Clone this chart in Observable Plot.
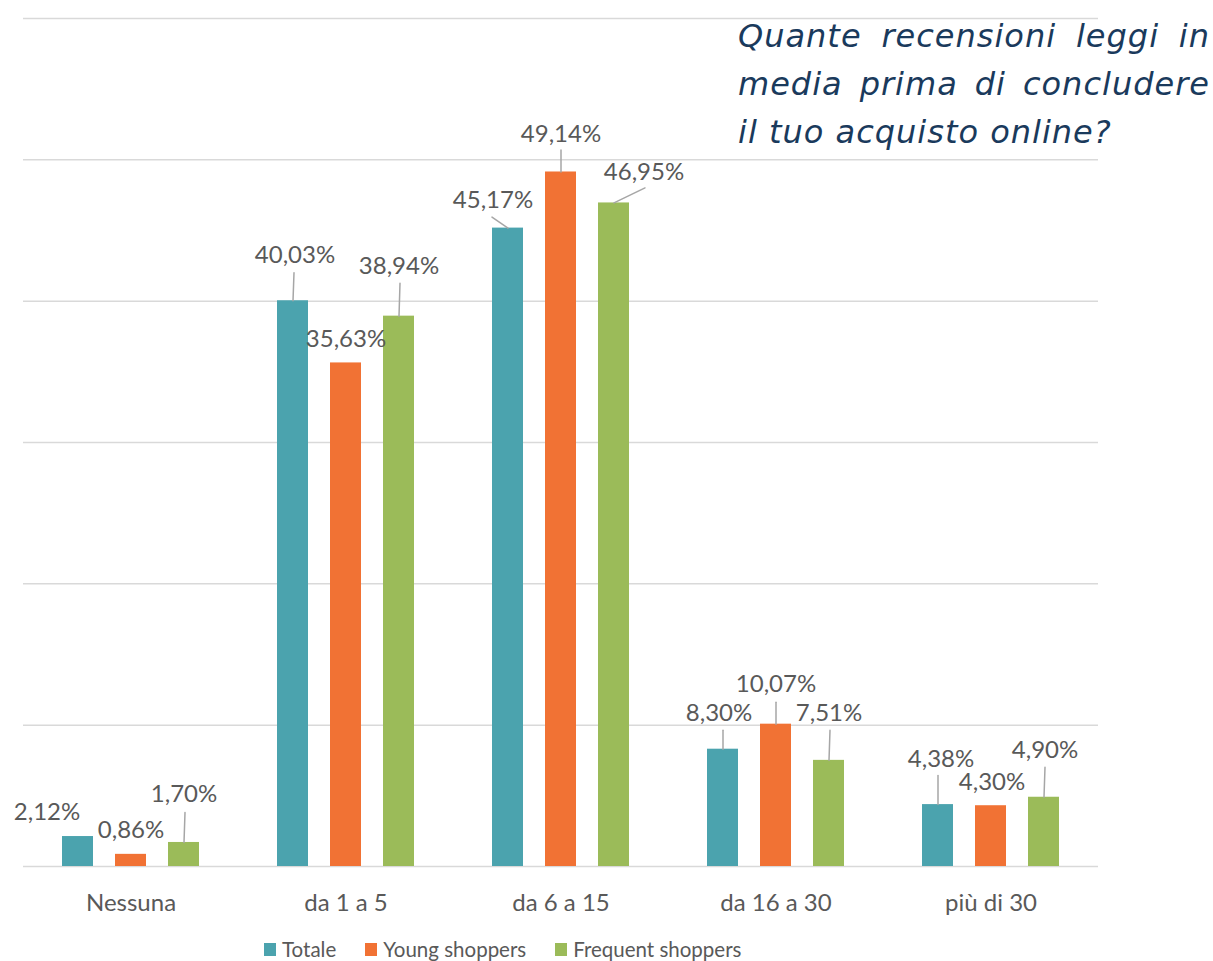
<!DOCTYPE html>
<html>
<head>
<meta charset="utf-8">
<script src="https://cdn.jsdelivr.net/npm/d3@7"></script>
<script src="https://cdn.jsdelivr.net/npm/@observablehq/plot@0.6"></script>
<style>
  body { margin: 0; background: #fff; }
  #wrap { position: relative; width: 1213px; height: 961px; overflow: hidden; background: #fff; }
  #chart { position: absolute; left: 0; top: 0; }
  #title { position: absolute; left: 738px; top: 12px; width: 472px; font-family: "DejaVu Sans"; font-style: italic; font-size: 32px; letter-spacing: 1px; line-height: 48px; color: #1a3a5c; }
  #title div { text-align: justify; text-align-last: justify; white-space: nowrap; }
  #title div.last { text-align: left; text-align-last: left; }
  #legend { position: absolute; left: 264px; top: 939px; height: 20px; display: flex; align-items: center; font-family: Lato; font-size: 20.5px; color: #595959; }
  .item { display: flex; align-items: center; margin-right: 29px; }
  .sw { width: 12px; height: 13px; margin-right: 6px; }
</style>
</head>
<body>
<div id="wrap">
  <div id="chart"></div>
  <div id="title"></div>
  <div id="legend"></div>
</div>
<script>
const categories = ["Nessuna", "da 1 a 5", "da 6 a 15", "da 16 a 30", "più di 30"];
const series = ["Totale", "Young shoppers", "Frequent shoppers"];
const totale = [2.12, 40.03, 45.17, 8.30, 4.38];
const young = [0.86, 35.63, 49.14, 10.07, 4.30];
const frequent = [1.70, 38.94, 46.95, 7.51, 4.90];
const yTicks = [0, 10, 20, 30, 40, 50, 60];
const titleLines = ["Quante recensioni leggi in", "media prima di concludere", "il tuo acquisto online?"];

// styling / layout (pixel nudges for data labels and leader lines)
const seriesColors = ["#4BA3AE", "#F17234", "#9BBB59"];
const labelOffsets = [
  [[-31, -24], [2, -45], [-15, -28], [-4, -36], [3, -45]],
  [[0, -24], [0, -24], [0, -38], [0, -40], [1, -23]],
  [[0, -48], [0, -50], [30, -31], [0, -47], [1, -47]]
];
const leaderOffsets = [
  [null, [1, -28], [-16, -11], [0, -19], [0, -29]],
  [null, null, [0, -22], [0, -22], null],
  [[1, -30], [1, -33], [31, -15], [1, -30], [1, -30]]
];

const valuesBySeries = [totale, young, frequent];
const data = [];
series.forEach((s, si) => categories.forEach((c, ci) => {
  const v = valuesBySeries[si][ci];
  data.push({category: c, series: s, value: v,
    label: v.toFixed(2).replace(".", ",") + "%",
    lab: labelOffsets[si][ci], lead: leaderOffsets[si][ci]});
}));
const leaders = data.filter(d => d.lead).map(d => ({...d,
  len: Math.hypot(d.lead[0], d.lead[1]),
  rot: Math.atan2(d.lead[0], -d.lead[1]) * 180 / Math.PI}));

const lineShape = {draw(ctx, l) { ctx.moveTo(0, 0); ctx.lineTo(0, -l); }};

const chart = Plot.plot({
  width: 1213, height: 932,
  marginLeft: 22, marginRight: 115, marginTop: 18, marginBottom: 66,
  style: {fontFamily: "Lato", color: "#595959", background: "transparent"},
  fx: {domain: categories, padding: 0, label: null},
  x: {domain: series, paddingInner: 0.42, paddingOuter: 0.72, axis: null},
  y: {domain: [0, 60], axis: null},
  length: {type: "identity"},
  color: {domain: series, range: seriesColors},
  marks: [
    Plot.ruleY(yTicks, {stroke: "#d9d9d9", strokeWidth: 1.5}),
    Plot.barY(data, {fx: "category", x: "series", y: "value", fill: "series"}),
    Plot.vector(leaders, {fx: "category", x: "series", y: "value", length: "len", rotate: "rot",
      anchor: "start", shape: lineShape, stroke: "#a6a6a6", strokeWidth: 1.5}),
    ...data.map(d => Plot.text([d], {fx: "category", x: "series", y: "value", text: "label",
      dx: d.lab[0], dy: d.lab[1], fontSize: 24, fill: "#595959"})),
    Plot.axisFx({anchor: "bottom", tickSize: 0, tickPadding: 27, fontSize: 24, label: null, fill: "#595959"})
  ]
});
document.getElementById("chart").appendChild(chart);

const title = document.getElementById("title");
titleLines.forEach((t, i) => {
  const div = document.createElement("div");
  div.textContent = t;
  if (i === titleLines.length - 1) div.className = "last";
  title.appendChild(div);
});

const legend = document.getElementById("legend");
series.forEach((s, i) => {
  const item = document.createElement("div");
  item.className = "item";
  const sw = document.createElement("div");
  sw.className = "sw";
  sw.style.background = seriesColors[i];
  const tx = document.createElement("span");
  tx.textContent = s;
  item.appendChild(sw);
  item.appendChild(tx);
  legend.appendChild(item);
});
</script>
</body>
</html>
